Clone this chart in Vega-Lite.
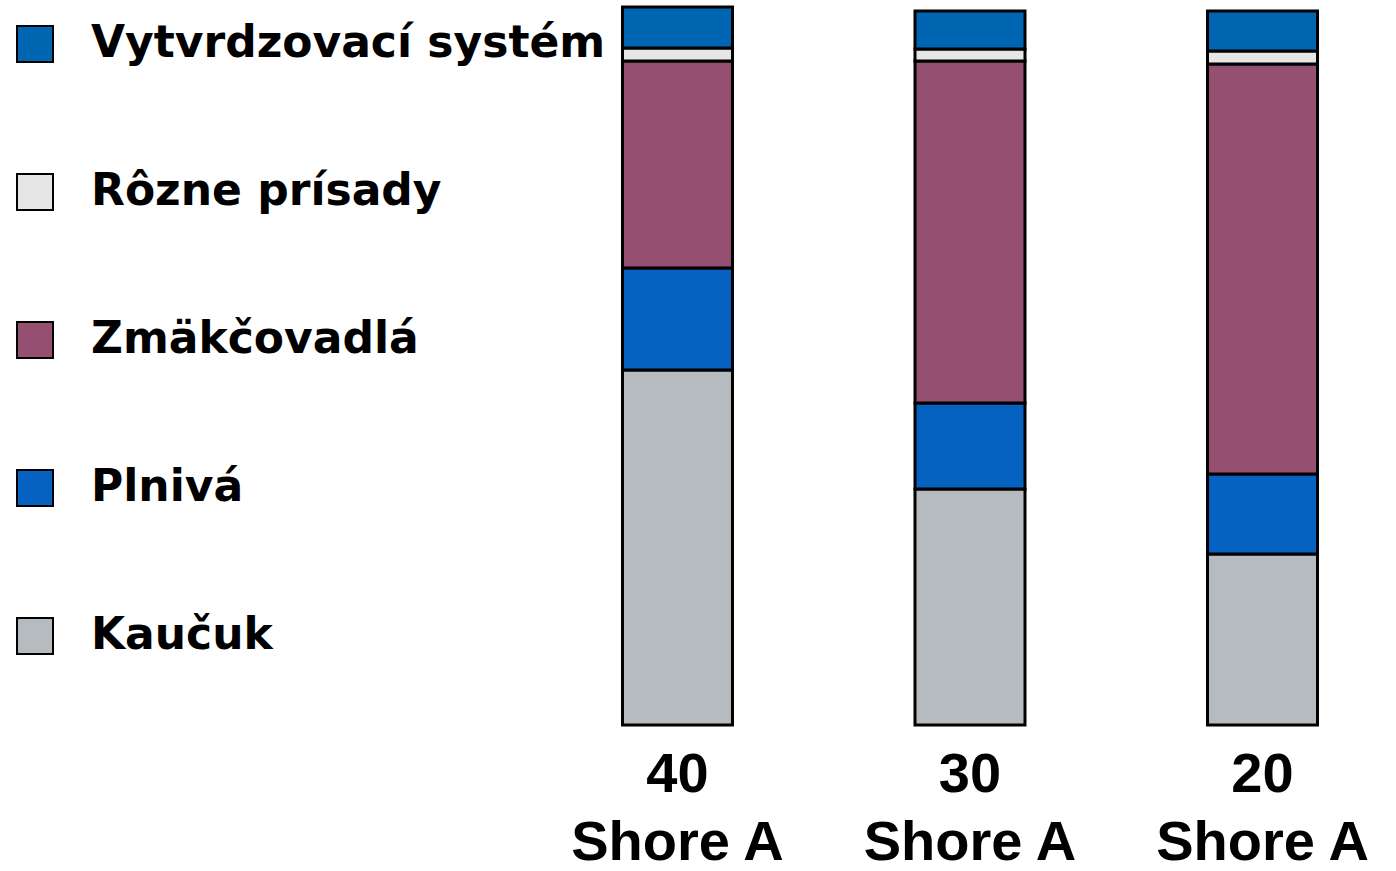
{
  "$schema": "https://vega.github.io/schema/vega-lite/v6.json",
  "width": 812,
  "height": 718,
  "autosize": {"type": "none"},
  "padding": {"left": 564, "top": 7, "right": 20, "bottom": 146},
  "background": "white",
  "config": {"view": {"stroke": null}},
  "data": {
    "values": [
      {"shore": "40", "zlozka": "Kaučuk", "hodnota": 355, "poradie": 1},
      {"shore": "40", "zlozka": "Plnivá", "hodnota": 102, "poradie": 2},
      {"shore": "40", "zlozka": "Zmäkčovadlá", "hodnota": 207, "poradie": 3},
      {"shore": "40", "zlozka": "Rôzne prísady", "hodnota": 13, "poradie": 4},
      {"shore": "40", "zlozka": "Vytvrdzovací systém", "hodnota": 41, "poradie": 5},
      {"shore": "30", "zlozka": "Kaučuk", "hodnota": 236, "poradie": 1},
      {"shore": "30", "zlozka": "Plnivá", "hodnota": 86, "poradie": 2},
      {"shore": "30", "zlozka": "Zmäkčovadlá", "hodnota": 342, "poradie": 3},
      {"shore": "30", "zlozka": "Rôzne prísady", "hodnota": 12, "poradie": 4},
      {"shore": "30", "zlozka": "Vytvrdzovací systém", "hodnota": 38, "poradie": 5},
      {"shore": "20", "zlozka": "Kaučuk", "hodnota": 171, "poradie": 1},
      {"shore": "20", "zlozka": "Plnivá", "hodnota": 80, "poradie": 2},
      {"shore": "20", "zlozka": "Zmäkčovadlá", "hodnota": 410, "poradie": 3},
      {"shore": "20", "zlozka": "Rôzne prísady", "hodnota": 13, "poradie": 4},
      {"shore": "20", "zlozka": "Vytvrdzovací systém", "hodnota": 40, "poradie": 5}
    ]
  },
  "mark": {"type": "bar", "stroke": "black", "strokeWidth": 3, "width": 110},
  "encoding": {
    "x": {
      "field": "shore",
      "type": "nominal",
      "sort": ["40", "30", "20"],
      "scale": {"paddingInner": 0.624, "paddingOuter": 0.2},
      "axis": {
        "title": null,
        "domain": false,
        "ticks": false,
        "labelAngle": 0,
        "labelFont": "Liberation Sans",
        "labelFontWeight": "bold",
        "labelFontSize": 56,
        "labelColor": "black",
        "labelLineHeight": 68,
        "labelPadding": 22,
        "labelLimit": 400,
        "labelOverlap": false,
        "labelExpr": "[datum.label, 'Shore A']"
      }
    },
    "y": {
      "field": "hodnota",
      "type": "quantitative",
      "stack": "zero",
      "scale": {"domain": [0, 718], "nice": false},
      "axis": null
    },
    "order": {"field": "poradie", "type": "quantitative"},
    "color": {
      "field": "zlozka",
      "type": "nominal",
      "scale": {
        "domain": ["Vytvrdzovací systém", "Rôzne prísady", "Zmäkčovadlá", "Plnivá", "Kaučuk"],
        "range": ["#0066B2", "#E6E6E6", "#944F71", "#0562C0", "#B6BBBF"]
      },
      "legend": {
        "title": null,
        "orient": "none",
        "legendX": -551,
        "legendY": 15,
        "direction": "vertical",
        "symbolType": "square",
        "symbolSize": 1296,
        "symbolStrokeColor": "black",
        "symbolStrokeWidth": 2,
        "symbolOpacity": 1,
        "labelFont": "DejaVu Sans",
        "labelFontWeight": "bold",
        "labelFontSize": 44,
        "labelColor": "black",
        "labelOffset": 34,
        "labelLimit": 700,
        "rowPadding": 104
      }
    }
  }
}
